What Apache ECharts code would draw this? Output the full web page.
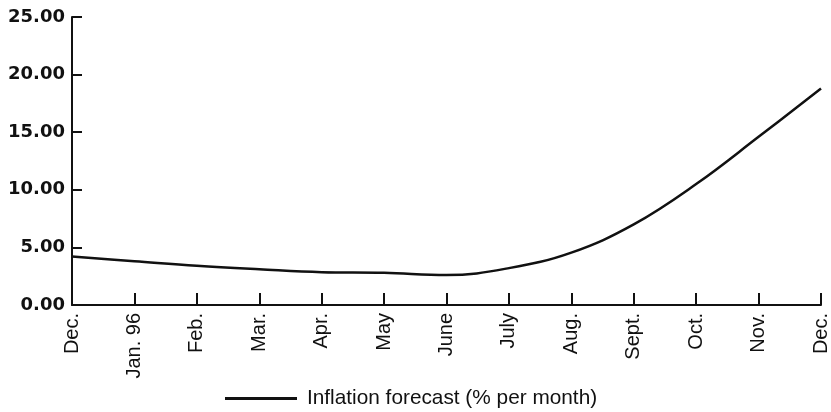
<!DOCTYPE html>
<html>
<head>
<meta charset="utf-8">
<script src="https://cdn.jsdelivr.net/npm/echarts@6/dist/echarts.min.js"></script>
<style>
html,body{margin:0;padding:0;background:#fff;}
#chart{width:831px;height:412px;}
</style>
</head>
<body>
<div id="chart"></div>
<script>
const categories = ['Dec.', 'Jan. 96', 'Feb.', 'Mar.', 'Apr.', 'May', 'June', 'July', 'Aug.', 'Sept.', 'Oct.', 'Nov.', 'Dec.'];
const inflation = [4.2, 3.8, 3.4, 3.1, 2.85, 2.8, 2.6, 3.2, 4.55, 7.0, 10.5, 14.6, 18.8];
const seriesName = 'Inflation forecast (% per month)';

const chart = echarts.init(document.getElementById('chart'), null, {renderer: 'canvas'});
chart.setOption({
  animation: false,
  backgroundColor: '#ffffff',
  grid: {left: 72, right: 4, top: 17, bottom: 107, containLabel: false},
  legend: {
    show: true,
    left: 220,
    top: 383,
    itemWidth: 72,
    itemHeight: 22,
    itemGap: 10,
    data: [{name: seriesName, icon: 'path://M0,9.5 L72,9.5 L72,12.5 L0,12.5 Z'}],
    textStyle: {color: '#111', fontSize: 20.8, fontFamily: 'Liberation Sans, Arial, sans-serif', padding: [0,0,0,5]}
  },
  xAxis: {
    type: 'category',
    data: categories,
    boundaryGap: false,
    axisLine: {show: true, lineStyle: {color: '#111', width: 2}},
    axisTick: {show: true, inside: true, length: 12, lineStyle: {color: '#111', width: 2}},
    axisLabel: {
      rotate: 90, interval: 0, margin: 8, color: '#111', fontSize: 20,
      fontFamily: 'Liberation Sans, Arial, sans-serif'
    },
    splitLine: {show: false}
  },
  yAxis: {
    type: 'value',
    min: 0, max: 25, interval: 5,
    axisLine: {show: true, lineStyle: {color: '#111', width: 2}},
    axisTick: {show: true, inside: true, length: 10, lineStyle: {color: '#111', width: 2}},
    axisLabel: {
      margin: 7, color: '#111', fontSize: 18, fontWeight: 'bold',
      fontFamily: 'DejaVu Sans, sans-serif',
      formatter: v => v.toFixed(2)
    },
    splitLine: {show: false}
  },
  series: [{
    name: seriesName,
    type: 'line',
    data: inflation,
    smooth: 0.4,
    symbol: 'none',
    lineStyle: {color: '#111', width: 2.5},
    itemStyle: {color: '#111'}
  }]
});
</script>
</body>
</html>
